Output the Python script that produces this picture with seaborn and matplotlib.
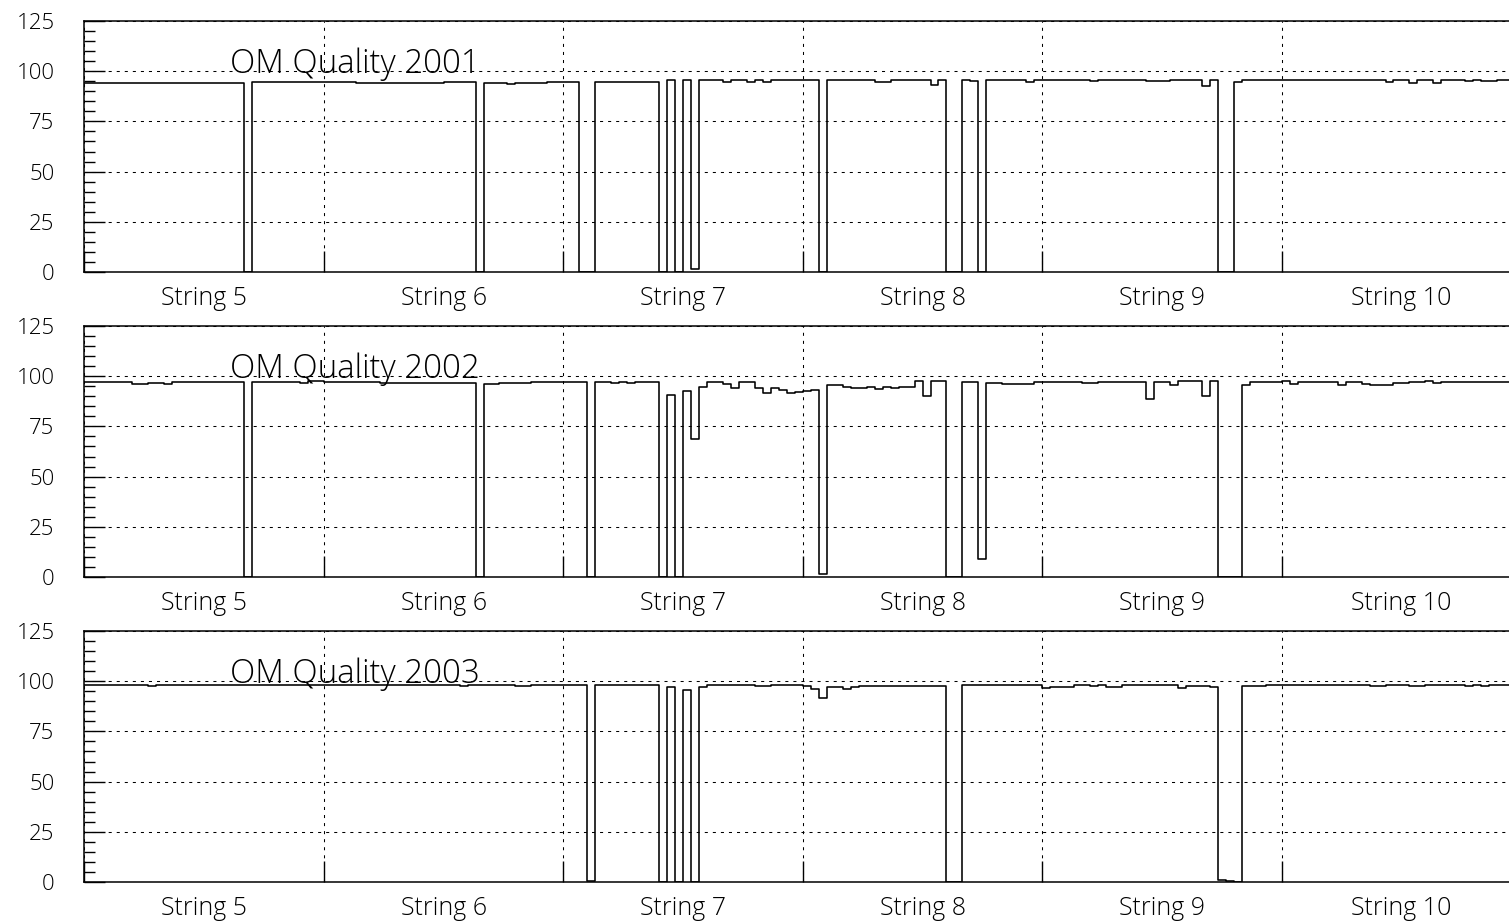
import numpy as np
import pandas as pd
import matplotlib
matplotlib.use("Agg")
import matplotlib.pyplot as plt
import seaborn as sns
from matplotlib.ticker import MultipleLocator, FixedLocator, FixedFormatter, NullFormatter

# ---------------- data ----------------
strings = ["String 5", "String 6", "String 7", "String 8", "String 9", "String 10"]
oms_per_string = 30
years = ["2001", "2002", "2003"]

q2001_s5 = [94.3, 94.3, 94.3, 94.3, 94.3, 94.3, 94.0, 94.3, 94.3, 94.3,
            94.0, 94.3, 94.3, 94.3, 94.3, 94.3, 94.3, 94.3, 94.3, 94.3,
            0.0, 94.5, 94.5, 94.5, 94.5, 94.5, 94.5, 94.5, 94.5, 94.5]
q2001_s6 = [94.5, 94.5, 94.5, 94.5, 94.0, 94.3, 94.3, 94.3, 94.3, 94.3,
            94.3, 94.3, 94.3, 94.3, 94.0, 94.5, 94.5, 94.5, 94.5, 0.0,
            94.0, 94.3, 94.3, 93.8, 94.3, 94.3, 94.3, 94.3, 94.5, 94.5]
q2001_s7 = [94.8, 94.8, 0.0, 0.0, 94.8, 94.8, 94.8, 94.4, 94.8, 94.8,
            94.8, 94.8, 0.0, 95.5, 0.0, 95.5, 1.5, 95.5, 95.5, 95.5,
            94.8, 95.5, 95.5, 94.8, 95.5, 94.8, 95.5, 95.5, 95.5, 95.5]
q2001_s8 = [95.5, 95.5, 0.0, 95.5, 95.5, 95.5, 95.5, 95.5, 95.5, 94.8,
            94.8, 95.5, 95.5, 95.5, 95.5, 95.5, 93.0, 95.5, 0.0, 0.0,
            95.5, 95.0, 0.0, 95.5, 95.5, 95.5, 95.5, 95.5, 94.5, 95.5]
q2001_s9 = [95.5, 95.5, 95.5, 95.5, 95.5, 95.5, 95.0, 95.5, 95.5, 95.5,
            95.5, 95.5, 95.5, 95.0, 95.0, 95.0, 95.5, 95.5, 95.5, 95.5,
            92.5, 95.5, 0.0, 0.0, 94.8, 95.5, 95.5, 95.5, 95.5, 95.5]
q2001_s10 = [95.5, 95.5, 95.5, 95.5, 95.5, 95.5, 95.5, 95.5, 95.5, 95.5,
             95.5, 95.5, 95.5, 94.5, 95.5, 95.5, 94.0, 95.5, 95.5, 94.0,
             95.5, 95.5, 95.5, 95.0, 95.5, 95.0, 95.0, 95.5, 95.5, 95.5]

q2002_s5 = [96.9, 96.9, 96.9, 96.9, 96.9, 96.9, 95.9, 95.9, 96.4, 96.4,
            95.9, 96.9, 96.9, 96.9, 97.2, 97.2, 97.2, 97.2, 97.2, 97.2,
            0.0, 97.2, 97.2, 97.2, 97.2, 97.2, 97.2, 96.4, 97.5, 97.5]
q2002_s6 = [96.9, 96.9, 96.9, 96.9, 96.9, 96.9, 96.9, 96.4, 96.4, 96.4,
            96.4, 96.4, 96.4, 96.4, 96.4, 96.4, 96.4, 96.4, 96.4, 0.0,
            95.9, 95.9, 96.4, 96.4, 96.4, 96.4, 96.9, 96.9, 97.2, 97.2]
q2002_s7 = [97.3, 97.3, 97.3, 0.0, 97.2, 97.2, 96.8, 97.2, 96.8, 97.2,
            97.2, 97.2, 0.0, 90.4, 0.0, 92.7, 68.7, 94.5, 97.3, 97.0,
            96.3, 94.0, 97.0, 97.0, 94.2, 91.7, 93.9, 93.0, 91.7, 92.2]
q2002_s8 = [92.4, 92.9, 1.3, 95.4, 95.4, 94.7, 94.2, 94.2, 94.7, 93.5,
            94.7, 94.0, 94.7, 94.7, 97.5, 89.9, 97.5, 97.5, 0.0, 0.0,
            97.2, 97.0, 9.0, 96.8, 96.8, 96.0, 96.0, 96.3, 96.3, 97.0]
q2002_s9 = [96.9, 96.9, 96.9, 96.9, 97.2, 96.4, 96.6, 97.2, 97.2, 97.2,
            96.9, 97.0, 97.0, 88.6, 97.2, 97.2, 95.5, 97.5, 97.5, 97.5,
            90.2, 97.5, 0.0, 0.0, 0.0, 95.5, 96.9, 96.9, 96.9, 97.2]
q2002_s10 = [97.5, 96.2, 96.9, 96.9, 97.3, 96.9, 96.9, 95.5, 96.9, 96.9,
             96.0, 95.8, 95.8, 95.8, 96.4, 96.4, 97.2, 97.2, 97.5, 96.4,
             96.9, 96.9, 96.9, 96.9, 96.9, 96.9, 96.9, 96.9, 96.9, 96.9]

q2003_s5 = [98.0, 98.0, 98.0, 98.0, 98.0, 98.0, 98.0, 98.0, 97.6, 98.0,
            98.0, 98.0, 98.0, 98.0, 98.0, 98.0, 98.0, 98.0, 98.0, 98.0,
            98.0, 98.0, 98.0, 98.0, 98.0, 98.0, 98.0, 98.0, 98.0, 98.0]
q2003_s6 = [98.0, 98.0, 98.0, 98.0, 98.0, 98.0, 98.0, 98.0, 98.0, 98.0,
            98.0, 98.0, 98.0, 98.0, 98.0, 98.0, 98.0, 97.6, 98.0, 98.0,
            98.0, 98.0, 98.0, 98.0, 97.6, 97.6, 98.0, 98.0, 98.0, 98.0]
q2003_s7 = [98.0, 98.0, 98.0, 0.7, 98.0, 98.0, 98.0, 98.0, 98.0, 98.0,
            98.0, 98.0, 0.0, 97.2, 0.0, 95.7, 0.0, 97.2, 98.0, 98.0,
            98.0, 98.0, 98.0, 98.0, 97.6, 97.6, 98.0, 98.0, 98.0, 98.0]
q2003_s8 = [97.7, 96.3, 91.4, 97.2, 97.2, 96.3, 97.2, 97.7, 97.7, 97.7,
            97.4, 97.7, 97.7, 97.4, 97.8, 97.8, 97.8, 97.5, 0.0, 0.0,
            98.0, 98.0, 98.0, 98.0, 98.0, 98.0, 98.0, 98.0, 98.0, 98.0]
q2003_s9 = [96.4, 96.9, 96.9, 96.9, 98.0, 98.0, 97.7, 98.0, 96.9, 96.9,
            98.0, 98.0, 98.0, 98.0, 98.0, 98.0, 98.0, 96.4, 97.8, 97.8,
            97.8, 96.9, 1.0, 0.6, 0.0, 97.7, 97.7, 97.5, 98.0, 98.0]
q2003_s10 = [98.0, 98.0, 98.0, 98.0, 98.0, 98.0, 98.0, 98.0, 98.0, 98.0,
             98.0, 97.6, 97.6, 98.0, 98.0, 98.0, 97.6, 97.6, 98.0, 98.0,
             98.0, 98.0, 98.0, 97.6, 98.0, 97.6, 98.0, 98.0, 98.0, 98.0]

quality = {
    "2001": q2001_s5 + q2001_s6 + q2001_s7 + q2001_s8 + q2001_s9 + q2001_s10,
    "2002": q2002_s5 + q2002_s6 + q2002_s7 + q2002_s8 + q2002_s9 + q2002_s10,
    "2003": q2003_s5 + q2003_s6 + q2003_s7 + q2003_s8 + q2003_s9 + q2003_s10,
}

# ---------------- style ----------------
sns.set_theme(style="white")
plt.rcParams["font.family"] = ["Open Sans", "DejaVu Sans"]
plt.rcParams["font.weight"] = "light"
plt.rcParams["lines.scale_dashes"] = False
plt.rcParams["axes.edgecolor"] = "black"
plt.rcParams["xtick.color"] = "black"
plt.rcParams["ytick.color"] = "black"

W, H = 1509, 921
fig = plt.figure(figsize=(W / 100, H / 100), dpi=100)

n_om = oms_per_string * len(strings)
lo, hi = -0.5, n_om - 0.5
edges = [lo + oms_per_string * k for k in range(len(strings) + 1)]
centers = [lo + oms_per_string * (k + 0.5) for k in range(len(strings))]

left_px, width_px, height_px = 84.4, 1436.8, 251
tops_px = [21, 326, 631]

for k, year in enumerate(years):
    top = tops_px[k]
    ax = fig.add_axes([left_px / W, 1 - (top + height_px) / H, width_px / W, height_px / H])
    df = pd.DataFrame({"om": np.arange(n_om), "quality": quality[year]})
    sns.histplot(data=df, x="om", weights="quality", bins=n_om, binrange=(lo, hi),
                 element="step", fill=False, color="black", linewidth=1.15, ax=ax)
    ax.set_xlim(lo, hi)
    ax.set_ylim(0, 125)
    ax.set_xlabel("")
    ax.set_ylabel("")
    ax.set_axisbelow(True)

    ax.yaxis.set_major_locator(MultipleLocator(25))
    ax.yaxis.set_minor_locator(MultipleLocator(5))
    ax.tick_params(axis="y", which="major", direction="in", length=15, width=1,
                   labelsize=16, pad=21.5, left=True)
    ax.tick_params(axis="y", which="minor", direction="in", length=8, width=1, left=True)

    ax.xaxis.set_major_locator(FixedLocator(edges))
    ax.xaxis.set_major_formatter(NullFormatter())
    ax.xaxis.set_minor_locator(FixedLocator(centers))
    ax.xaxis.set_minor_formatter(FixedFormatter(strings))
    ax.tick_params(axis="x", which="major", direction="in", length=15, width=1, bottom=True)
    ax.tick_params(axis="x", which="minor", length=0, labelsize=18, pad=10, bottom=True)

    ax.grid(True, which="major", color="black", linewidth=0.75, linestyle=(0, (2.2, 3.6)))
    for sp in ax.spines.values():
        sp.set_visible(True)
        sp.set_color("black")
        sp.set_linewidth(1.1)

    ax.text(18.2 + lo, 99.3, f"OM Quality {year}", fontsize=23.8, fontweight="light",
            ha="left", va="baseline", color="black")

fig.savefig("out.png", dpi=100)
